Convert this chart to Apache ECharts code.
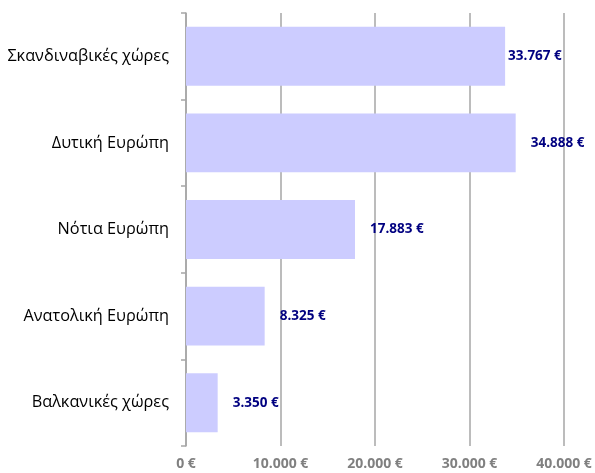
<!DOCTYPE html>
<html>
<head>
<meta charset="utf-8">
<script src="https://cdn.jsdelivr.net/npm/echarts@6/dist/echarts.min.js"></script>
<style>
  html, body { margin: 0; padding: 0; background: #ffffff; }
  #chart { width: 595px; height: 473px; }
</style>
</head>
<body>
<div id="chart"></div>
<script>
// Regions listed top to bottom
const regions = ['Σκανδιναβικές χώρες', 'Δυτική Ευρώπη', 'Νότια Ευρώπη', 'Ανατολική Ευρώπη', 'Βαλκανικές χώρες'];
const amounts = [33767, 34888, 17883, 8325, 3350];
const axisTicks = [0, 10000, 20000, 30000, 40000];

const fmt = v => v.toLocaleString('de-DE') + ' €';

const chart = echarts.init(document.getElementById('chart'));
chart.setOption({
  animation: false,
  grid: { left: 186, right: 31, top: 13, bottom: 27, containLabel: false },
  xAxis: {
    type: 'value',
    min: axisTicks[0],
    max: axisTicks[axisTicks.length - 1],
    interval: axisTicks[1] - axisTicks[0],
    axisLine: { show: false },
    axisTick: { show: false },
    splitLine: { show: true, lineStyle: { color: '#a6a6a6', width: 1.5 } },
    axisLabel: {
      color: '#808080', fontWeight: 'bold', fontSize: 14,
      fontFamily: 'Open Sans', margin: 11,
      formatter: v => fmt(v)
    }
  },
  yAxis: {
    type: 'category',
    inverse: true,
    data: regions,
    axisLine: { show: true, lineStyle: { color: '#a6a6a6', width: 1.5 } },
    axisTick: { show: true, length: 5, lineStyle: { color: '#a6a6a6', width: 1.5 } },
    axisLabel: { color: '#000000', fontSize: 16.3, fontFamily: 'Open Sans', margin: 17 }
  },
  series: [{
    type: 'bar',
    data: amounts.map((v, i) => ({
      value: v,
      label: { distance: i === 0 ? 3 : 15 }
    })),
    barCategoryGap: '32%',
    itemStyle: { color: '#ccccff' },
    label: {
      show: true,
      position: 'right',
      color: '#000080',
      fontWeight: 'bold',
      fontSize: 13.5,
      fontFamily: 'Open Sans',
      formatter: p => fmt(p.value)
    }
  }]
});
</script>
</body>
</html>
